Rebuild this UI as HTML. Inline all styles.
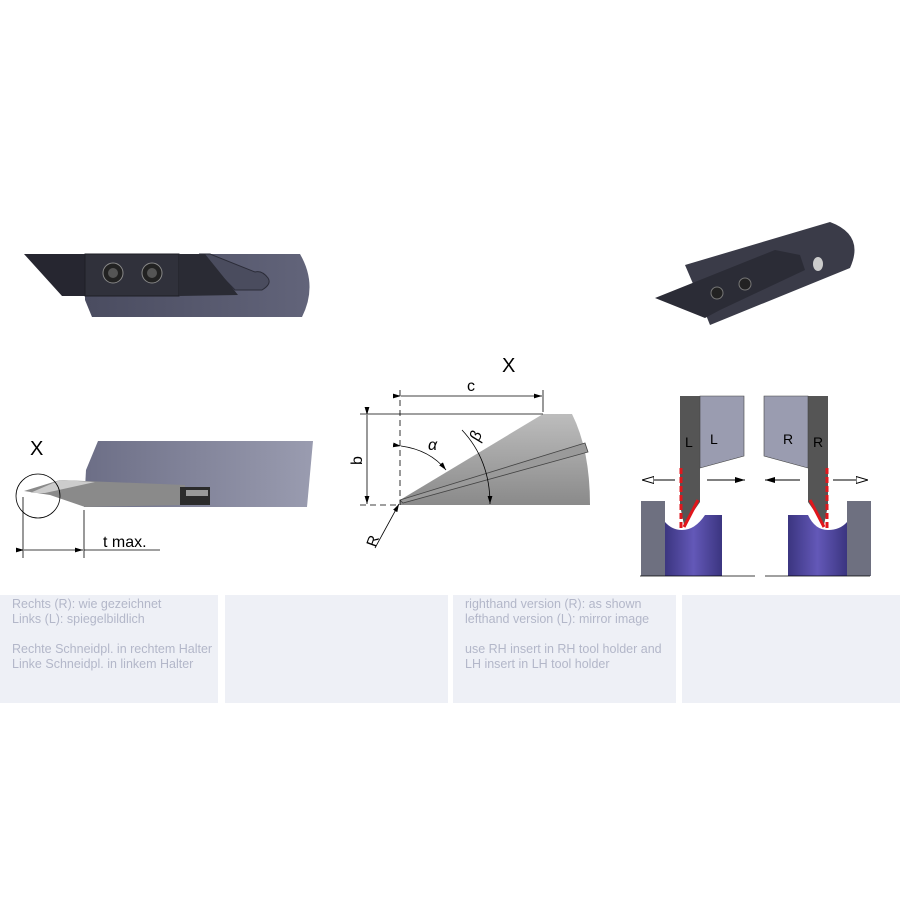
<!DOCTYPE html>
<html><head><style>
body{margin:0;width:900px;height:900px;background:#fff;position:relative;overflow:hidden;font-family:"Liberation Sans",sans-serif}
.p{position:absolute;top:595px;height:108px;background:#eef0f6;color:#b3b7c9;font-size:12.5px;line-height:15px;padding:2px 0 0 12px;box-sizing:border-box}
</style></head><body>
<svg width="900" height="900" style="position:absolute;left:0;top:0">
<defs>
<linearGradient id="hb" x1="0" x2="1"><stop offset="0" stop-color="#4a4c60"/><stop offset="1" stop-color="#62647a"/></linearGradient>
<linearGradient id="hl" x1="0" x2="1"><stop offset="0" stop-color="#6c6e86"/><stop offset="1" stop-color="#9a9cb0"/></linearGradient>
<linearGradient id="gr" x1="0" y1="0" x2="0" y2="1"><stop offset="0" stop-color="#bdbdbd"/><stop offset="1" stop-color="#8a8a8a"/></linearGradient>
<linearGradient id="pu" x1="0" x2="1"><stop offset="0" stop-color="#3b3580"/><stop offset=".5" stop-color="#6358b8"/><stop offset="1" stop-color="#3b3580"/></linearGradient>
<marker id="a" markerWidth="10" markerHeight="6" refX="10" refY="3" orient="auto"><path d="M0,0L10,3L0,6z" fill="#000"/></marker>
<marker id="ao" markerWidth="12" markerHeight="8" refX="12" refY="4" orient="auto"><path d="M0,0.5L12,4L0,7.5z" fill="#fff" stroke="#000"/></marker>
</defs>
<!-- top-left holder -->
<path d="M85,254 L300,254 Q318,285 302,317 L92,317 L85,300Z" fill="url(#hb)"/>
<path d="M200,254 L235,290 L262,290 Q272,284 268,278 Q262,270 255,272 L210,254Z" fill="#4a4c5e" stroke="#2b2c38"/>
<path d="M24,254 L85,254 L85,296 L62,296Z" fill="#262630"/>
<rect x="85" y="254" width="94" height="42" fill="#30313b" stroke="#1e1e26"/>
<path d="M179,254 L205,254 L238,295 L179,296Z" fill="#2a2b34"/>
<circle cx="113" cy="273" r="10" fill="#222" stroke="#888"/><circle cx="113" cy="273" r="5" fill="#555"/>
<circle cx="152" cy="273" r="10" fill="#222" stroke="#888"/><circle cx="152" cy="273" r="5" fill="#555"/>
<!-- isometric -->
<path d="M685,265 L830,222 Q865,235 850,268 L710,325 L700,300Z" fill="#3a3b48"/>
<path d="M655,298 L700,280 L775,250 L800,255 L805,270 L720,310 L705,318Z" fill="#2b2c36"/>
<circle cx="717" cy="293" r="6" fill="#222" stroke="#777"/><circle cx="745" cy="284" r="6" fill="#222" stroke="#777"/>
<ellipse cx="818" cy="264" rx="5" ry="7" fill="#ccc"/>
<!-- bottom-left side view -->
<path d="M98,441 L313,441 L307,507 L84,507 L86,470Z" fill="url(#hl)"/>
<path d="M24,491 L60,480 L185,485 L185,505 L85,507 L50,495Z" fill="#8a8a8a"/>
<path d="M30,493 L60,480 L95,482 L45,493Z" fill="#ccc"/>
<rect x="180" y="487" width="30" height="18" fill="#2b2b2b"/>
<rect x="186" y="490" width="22" height="6" fill="#999"/>
<text x="30" y="455" font-size="20">X</text>
<circle cx="38" cy="496" r="22" fill="none" stroke="#000" stroke-width="0.8"/>
<line x1="23" y1="497" x2="23" y2="558" stroke="#000" stroke-width="0.8"/>
<line x1="84" y1="510" x2="84" y2="558" stroke="#000" stroke-width="0.8"/>
<line x1="24" y1="550" x2="83" y2="550" stroke="#000" marker-start="url(#a)" marker-end="url(#a)" stroke-width="0.8"/>
<line x1="84" y1="550" x2="160" y2="550" stroke="#000" stroke-width="0.8"/>
<text x="103" y="547" font-size="16">t max.</text>
<!-- X detail -->
<text x="502" y="372" font-size="20">X</text>
<path d="M400,500 L543,414 L572,414 Q590,450 590,505 L400,505Z" fill="url(#gr)"/>
<path d="M400,500 L585,443 L588,452 L403,503Z" fill="#9a9a9a" stroke="#444" stroke-width="0.8"/>
<line x1="400" y1="390" x2="400" y2="505" stroke="#000" stroke-width="0.8" stroke-dasharray="6,4"/>
<line x1="543" y1="390" x2="543" y2="412" stroke="#000" stroke-width="0.8"/>
<line x1="401" y1="396" x2="542" y2="396" stroke="#000" stroke-width="0.8" marker-start="url(#a)" marker-end="url(#a)"/>
<text x="467" y="391" font-size="16">c</text>
<line x1="360" y1="414" x2="543" y2="414" stroke="#000" stroke-width="0.8"/>
<line x1="360" y1="505" x2="400" y2="505" stroke="#000" stroke-width="0.8" stroke-dasharray="6,4"/>
<line x1="367" y1="415" x2="367" y2="504" stroke="#000" stroke-width="0.8" marker-start="url(#a)" marker-end="url(#a)"/>
<text x="362" y="465" font-size="16" transform="rotate(-90 362 465)">b</text>
<path d="M401,446 Q430,450 446,470" fill="none" stroke="#000" stroke-width="0.8" marker-start="url(#a)" marker-end="url(#a)"/>
<text x="428" y="450" font-size="16" font-style="italic">α</text>
<path d="M462,430 Q490,460 490,504" fill="none" stroke="#000" stroke-width="0.8" marker-end="url(#a)"/>
<text x="468" y="440" font-size="16" font-style="italic" transform="rotate(-70 475 433)">β</text>
<line x1="375" y1="548" x2="399" y2="504" stroke="#000" stroke-width="0.8" marker-end="url(#a)"/>
<text x="366" y="546" font-size="15" transform="rotate(-70 372 540)">R</text>
<!-- L/R figure -->
<path d="M680,396 L700,396 L700,502 L684,525 L680,505Z" fill="#555"/>
<path d="M700,396 L744,396 L744,456 L700,468Z" fill="#9a9cb0" stroke="#444" stroke-width="0.6"/>
<text x="685" y="447" font-size="14">L</text><text x="710" y="444" font-size="14">L</text>
<path d="M828,396 L808,396 L808,502 L824,525 L828,505Z" fill="#555"/>
<path d="M808,396 L764,396 L764,456 L808,468Z" fill="#9a9cb0" stroke="#444" stroke-width="0.6"/>
<text x="783" y="444" font-size="14">R</text><text x="813" y="447" font-size="14">R</text>
<path d="M681,468 L681,528 M827,468 L827,528" stroke="#e0161c" stroke-width="3" stroke-dasharray="6,3" fill="none"/>
<path d="M698,500 L684,527 M810,500 L824,527" stroke="#e0161c" stroke-width="3" fill="none"/>
<line x1="675" y1="480" x2="642" y2="480" stroke="#000" marker-end="url(#ao)"/>
<line x1="707" y1="480" x2="745" y2="480" stroke="#000" marker-end="url(#a)"/>
<line x1="800" y1="480" x2="765" y2="480" stroke="#000" marker-end="url(#a)"/>
<line x1="833" y1="480" x2="868" y2="480" stroke="#000" marker-end="url(#ao)"/>
<rect x="641" y="501" width="24" height="75" fill="#6e7080"/>
<path d="M665,522 Q672,530 682,530 Q695,530 705,515 L722,515 L722,576 L665,576Z" fill="url(#pu)"/>
<rect x="847" y="501" width="24" height="75" fill="#6e7080"/>
<path d="M847,522 Q840,530 828,530 Q815,530 808,515 L788,515 L788,576 L847,576Z" fill="url(#pu)"/>
<line x1="640" y1="576" x2="755" y2="576" stroke="#000" stroke-width="0.8"/>
<line x1="765" y1="576" x2="870" y2="576" stroke="#000" stroke-width="0.8"/>
</svg>
<div class="p" style="left:0;width:218px">Rechts (R): wie gezeichnet<br>Links (L): spiegelbildlich<br><br>Rechte Schneidpl. in rechtem Halter<br>Linke Schneidpl. in linkem Halter</div>
<div class="p" style="left:225px;width:223px"></div>
<div class="p" style="left:453px;width:223px">righthand version (R): as shown<br>lefthand version (L): mirror image<br><br>use RH insert in RH tool holder and<br>LH insert in LH tool holder</div>
<div class="p" style="left:682px;width:218px"></div>
</body></html>
